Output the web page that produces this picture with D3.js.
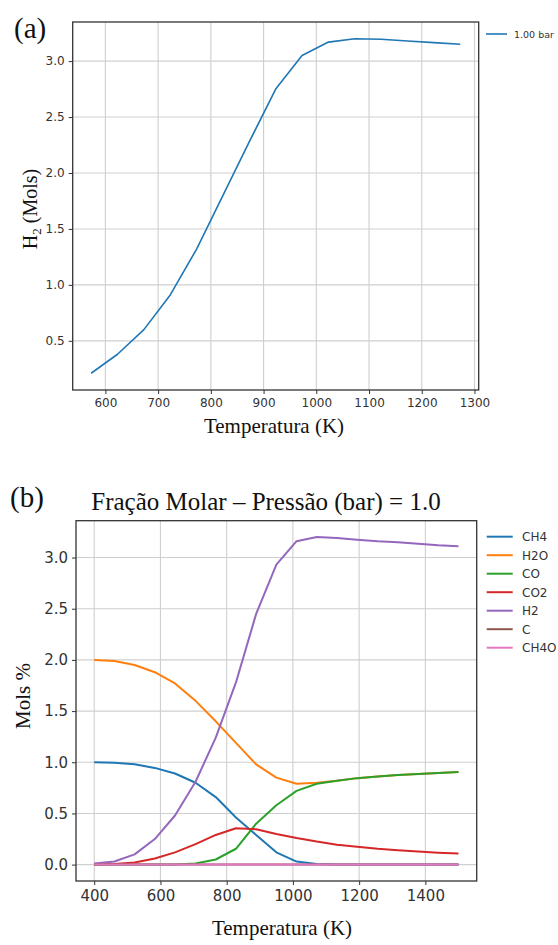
<!DOCTYPE html>
<html>
<head>
<meta charset="utf-8">
<script src="https://cdn.jsdelivr.net/npm/d3@7"></script>
<style>
  html, body { margin: 0; padding: 0; background: #fff; }
  svg { display: block; }
</style>
</head>
<body>
<div id="plot"></div>
<script>
// (a) H2 vs temperature, 1 bar
const tempA = [573, 623, 673, 723, 773, 823, 873, 923, 973, 1023, 1073, 1123, 1173, 1223, 1273];
const h2A = [0.21, 0.38, 0.60, 0.91, 1.32, 1.80, 2.28, 2.75, 3.05, 3.17, 3.20, 3.195, 3.18, 3.165, 3.15];
const xTicksA = [600, 700, 800, 900, 1000, 1100, 1200, 1300];
const yTicksA = [0.5, 1.0, 1.5, 2.0, 2.5, 3.0];

// (b) mole amounts vs temperature
const tempB = [400, 461, 522, 583, 644, 706, 767, 828, 889, 950, 1011, 1072, 1133, 1194, 1256, 1317, 1378, 1439, 1500];
const ch4 = [1.00, 0.995, 0.98, 0.945, 0.89, 0.80, 0.66, 0.46, 0.29, 0.12, 0.03, 0.005, 0.001, 0, 0, 0, 0, 0, 0];
const h2o = [2.00, 1.99, 1.95, 1.88, 1.77, 1.60, 1.40, 1.19, 0.98, 0.85, 0.79, 0.80, 0.82, 0.845, 0.86, 0.875, 0.885, 0.895, 0.905];
const co = [0, 0, 0, 0, 0.002, 0.01, 0.05, 0.155, 0.40, 0.58, 0.72, 0.79, 0.82, 0.845, 0.86, 0.875, 0.885, 0.895, 0.905];
const co2 = [0, 0.005, 0.02, 0.06, 0.12, 0.20, 0.29, 0.355, 0.345, 0.30, 0.26, 0.225, 0.195, 0.175, 0.155, 0.14, 0.128, 0.117, 0.108];
const h2 = [0.01, 0.03, 0.10, 0.25, 0.48, 0.81, 1.24, 1.78, 2.45, 2.93, 3.16, 3.20, 3.19, 3.175, 3.16, 3.15, 3.135, 3.12, 3.11];
const carbon = [0, 0, 0, 0, 0, 0, 0, 0, 0, 0, 0, 0, 0, 0, 0, 0, 0, 0, 0];
const ch4o = [0, 0, 0, 0, 0, 0, 0, 0, 0, 0, 0, 0, 0, 0, 0, 0, 0, 0, 0];
const seriesNames = ['CH4', 'H2O', 'CO', 'CO2', 'H2', 'C', 'CH4O'];
const seriesValues = [ch4, h2o, co, co2, h2, carbon, ch4o];
const seriesColors = ['#1f77b4', '#ff7f0e', '#2ca02c', '#d62728', '#9467bd', '#8c564b', '#e377c2'];
const xTicksB = [400, 600, 800, 1000, 1200, 1400];
const yTicksB = [0.0, 0.5, 1.0, 1.5, 2.0, 2.5, 3.0];

const width = 558;
const height = 945;
const serif = '"Liberation Serif", "Times New Roman", serif';
const sans = '"DejaVu Sans", sans-serif';

const svg = d3.select('#plot').append('svg')
  .attr('width', width)
  .attr('height', height);

// matplotlib-like 5% padding on data extent
const padded = (vals) => {
  const [lo, hi] = d3.extent(vals);
  const pad = (hi - lo) * 0.05;
  return [lo - pad, hi + pad];
};

const drawFrame = (g, x, y, xTicks, yTicks, opts) => {
  const [x0, x1] = x.range();
  const [y0, y1] = y.range();

  // grid
  g.append('g').selectAll('line.vgrid').data(xTicks).enter().append('line')
    .attr('x1', d => x(d)).attr('x2', d => x(d))
    .attr('y1', y0).attr('y2', y1)
    .attr('stroke', '#cfcfcf').attr('stroke-width', 1.1);
  g.append('g').selectAll('line.hgrid').data(yTicks).enter().append('line')
    .attr('x1', x0).attr('x2', x1)
    .attr('y1', d => y(d)).attr('y2', d => y(d))
    .attr('stroke', '#cfcfcf').attr('stroke-width', 1.1);

  const xAxis = g.append('g')
    .attr('transform', `translate(0, ${y0})`)
    .call(d3.axisBottom(x).tickValues(xTicks).tickFormat(d3.format('d')).tickSizeOuter(0).tickSize(4).tickPadding(opts.xPad));
  const yAxis = g.append('g')
    .attr('transform', `translate(${x0}, 0)`)
    .call(d3.axisLeft(y).tickValues(yTicks).tickFormat(d3.format('.1f')).tickSizeOuter(0).tickSize(4).tickPadding(opts.yPad));

  [xAxis, yAxis].forEach(ax => {
    ax.select('.domain').remove();
    ax.selectAll('line').attr('stroke', '#333').attr('stroke-width', 1);
    ax.selectAll('text')
      .attr('fill', '#333')
      .style('font-family', sans)
      .style('font-size', `${opts.tickSize}px`);
  });
};

const drawBox = (g, x, y) => {
  const [x0, x1] = x.range();
  const [y0, y1] = y.range();
  g.append('rect')
    .attr('x', x0).attr('y', y1)
    .attr('width', x1 - x0).attr('height', y0 - y1)
    .attr('fill', 'none')
    .attr('stroke', '#333')
    .attr('stroke-width', 1.3);
};

// ---------- (a) ----------
const gA = svg.append('g').attr('class', 'panel-a');
const xA = d3.scaleLinear().domain(padded(tempA)).range([72.7, 478.7]);
const yA = d3.scaleLinear().domain(padded(h2A)).range([390, 22]);

drawFrame(gA, xA, yA, xTicksA, yTicksA, { tickSize: 12, xPad: 4, yPad: 4 });

const lineA = d3.line()
  .x((d, i) => xA(tempA[i]))
  .y(d => yA(d));

gA.append('path')
  .datum(h2A)
  .attr('d', lineA)
  .attr('fill', 'none')
  .attr('stroke', '#1f77b4')
  .attr('stroke-width', 1.6)
  .attr('stroke-linejoin', 'round');

drawBox(gA, xA, yA);

gA.append('text')
  .attr('x', 14).attr('y', 38)
  .style('font-family', serif)
  .style('font-size', '29px')
  .attr('fill', '#111')
  .text('(a)');

const yLabelA = gA.append('text')
  .attr('transform', 'translate(37, 209) rotate(-90)')
  .attr('text-anchor', 'middle')
  .style('font-family', serif)
  .style('font-size', '20px')
  .attr('fill', '#111');
yLabelA.append('tspan').text('H');
yLabelA.append('tspan').attr('dy', 4).style('font-size', '13px').text('2');
yLabelA.append('tspan').attr('dy', -4).text(' (Mols)');

gA.append('text')
  .attr('x', 274).attr('y', 433)
  .attr('text-anchor', 'middle')
  .style('font-family', serif)
  .style('font-size', '21px')
  .attr('fill', '#111')
  .text('Temperatura (K)');

// legend (a)
gA.append('line')
  .attr('x1', 486).attr('x2', 507)
  .attr('y1', 34).attr('y2', 34)
  .attr('stroke', '#1f77b4').attr('stroke-width', 1.6);
gA.append('text')
  .attr('x', 514).attr('y', 37.5)
  .style('font-family', sans)
  .style('font-size', '9.5px')
  .attr('fill', '#333')
  .text('1.00 bar');

// ---------- (b) ----------
const gB = svg.append('g').attr('class', 'panel-b');
const xB = d3.scaleLinear().domain(padded(tempB)).range([76, 476.7]);
const yB = d3.scaleLinear().domain(padded(d3.merge(seriesValues))).range([881, 520.7]);

drawFrame(gB, xB, yB, xTicksB, yTicksB, { tickSize: 15, xPad: 5, yPad: 4 });

const lineB = d3.line()
  .x((d, i) => xB(tempB[i]))
  .y(d => yB(d));

gB.append('g').selectAll('path').data(seriesValues).enter().append('path')
  .attr('d', d => lineB(d))
  .attr('fill', 'none')
  .attr('stroke', (d, i) => seriesColors[i])
  .attr('stroke-width', 2)
  .attr('stroke-linejoin', 'round');

drawBox(gB, xB, yB);

gB.append('text')
  .attr('x', 10).attr('y', 507)
  .style('font-family', serif)
  .style('font-size', '29px')
  .attr('fill', '#111')
  .text('(b)');

gB.append('text')
  .attr('x', 266).attr('y', 510)
  .attr('text-anchor', 'middle')
  .style('font-family', serif)
  .style('font-size', '25px')
  .attr('fill', '#111')
  .text('Fração Molar – Pressão (bar) = 1.0');

gB.append('text')
  .attr('transform', 'translate(30, 696) rotate(-90)')
  .attr('text-anchor', 'middle')
  .style('font-family', serif)
  .style('font-size', '21px')
  .attr('fill', '#111')
  .text('Mols %');

gB.append('text')
  .attr('x', 282).attr('y', 935)
  .attr('text-anchor', 'middle')
  .style('font-family', serif)
  .style('font-size', '21px')
  .attr('fill', '#111')
  .text('Temperatura (K)');

// legend (b)
const legendB = gB.append('g').selectAll('g').data(seriesNames).enter().append('g')
  .attr('transform', (d, i) => `translate(0, ${536.7 + i * 18.5})`);
legendB.append('line')
  .attr('x1', 486.7).attr('x2', 512.7)
  .attr('stroke', (d, i) => seriesColors[i])
  .attr('stroke-width', 2);
legendB.append('text')
  .attr('x', 522).attr('y', 4.3)
  .style('font-family', sans)
  .style('font-size', '12px')
  .attr('fill', '#333')
  .text(d => d);
</script>
</body>
</html>
